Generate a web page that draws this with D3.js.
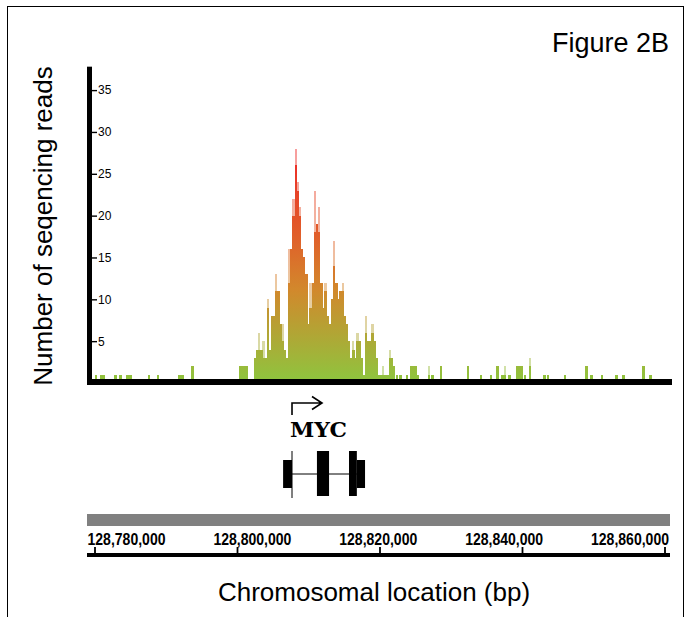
<!DOCTYPE html>
<html>
<head>
<meta charset="utf-8">
<script src="https://cdn.jsdelivr.net/npm/d3@7"></script>
<style>
body { margin: 0; background: #fff; }
svg text { font-family: "Liberation Sans", Arial, Helvetica, sans-serif; fill: #000; }
</style>
</head>
<body>
<div id="chart"></div>
<script>
// read counts around MYC, 300 bp bins through the peak
var binSize = 300;
var peakStart = 128800200;
var peakCounts = [2,2,2,2,0,0,0,3,4,4, 4,3,3,9,4,8,8,11,11,7, 5,4,3,12,16,20,26,23,20,16,
                  15,13,7,9,12,18,19,18,12,9, 11,8,7,10,14,12,10,11,11,8, 7,5,3,4,3,5,5,3,1,6,
                  5,5,6,5,3,1,1,1,1,1, 3,3,2];
// faint spikes above some bins: [bin index, count]
var peakTips = [[9,6],[11,5],[13,10],[17,13],[20,7],[23,16],[25,22],[26,28],[27,24],[28,21],
                [33,12],[35,23],[37,21],[40,12],[44,17],[48,12],[53,5],[55,6],[59,8],[62,7],[67,2],[70,4]];
// scattered background reads: [position, count]
var sparseReads = [[128780000,1],[128780700,1],[128781000,1],[128782700,1],[128783400,1],[128784300,1],
                   [128784600,1],[128784900,1],[128787400,1],[128788700,1],[128791600,1],[128791900,1],
                   [128792200,1],[128793500,2],
                   [128822200,1],[128822700,1],[128823600,1],[128824200,2],[128824500,2],[128824800,2],
                   [128825200,1],[128826700,1],[128827200,1],[128828400,2],[128832200,2],[128834000,1],
                   [128835400,1],[128836300,2],[128837000,1],[128837400,1],[128838000,1],[128839100,2],
                   [128839400,2],[128839700,2],[128840200,1],[128840900,2],[128842900,1],[128843400,1],
                   [128845800,1],[128848800,2],[128849500,1],[128851000,1],[128853000,1],[128854000,1],
                   [128856800,2],[128857800,1]];
var sparseTips = [[128826700,2],[128837400,2],[128840900,3]];

var yTicks = [5, 10, 15, 20, 25, 30, 35];
var xTicks = [128780000, 128800000, 128820000, 128840000, 128860000];

var geneName = "MYC";
var geneTss = 128807650;
var geneExons = [
    { start: 128806400, end: 128807650, kind: "utr" },
    { start: 128811150, end: 128812850, kind: "cds" },
    { start: 128815650, end: 128816750, kind: "cds" },
    { start: 128816750, end: 128817900, kind: "utr" }
];

var width = 685, height = 617;

var svg = d3.select("#chart").append("svg")
    .attr("width", width)
    .attr("height", height);

// frame
svg.append("rect")
    .attr("x", 7.5).attr("y", 6.5)
    .attr("width", 676).attr("height", 640)
    .attr("fill", "none").attr("stroke", "#000").attr("stroke-width", 1);

var x = d3.scaleLinear().domain([128780000, 128860000]).range([95, 665]);
var y = d3.scaleLinear().domain([0, 38]).range([383, 65]);

var defs = svg.append("defs");
var grad = defs.append("linearGradient")
    .attr("id", "readGrad")
    .attr("gradientUnits", "userSpaceOnUse")
    .attr("x1", 0).attr("x2", 0)
    .attr("y1", y(0)).attr("y2", y(28));
grad.append("stop").attr("offset", "0%").attr("stop-color", "#8dc63f");
grad.append("stop").attr("offset", "40%").attr("stop-color", "#d2882c");
grad.append("stop").attr("offset", "62%").attr("stop-color", "#e0602a");
grad.append("stop").attr("offset", "100%").attr("stop-color", "#ee2626");

var bars = peakCounts.map(function(c, i) { return { pos: peakStart + i * binSize, count: c }; })
    .concat(sparseReads.map(function(d) { return { pos: d[0], count: d[1] }; }))
    .filter(function(d) { return d.count > 0; });

var tips = peakTips.map(function(d) { return { pos: peakStart + d[0] * binSize, count: d[1] }; })
    .concat(sparseTips.map(function(d) { return { pos: d[0], count: d[1] }; }));

var plot = svg.append("g").attr("class", "reads")
    .attr("shape-rendering", "crispEdges");

plot.selectAll("rect.tip").data(tips).enter()
    .append("rect")
    .attr("class", "tip")
    .attr("x", function(d) { return x(d.pos); })
    .attr("width", function(d) { return x(d.pos + binSize) - x(d.pos); })
    .attr("y", function(d) { return y(d.count); })
    .attr("height", function(d) { return y(0) - y(d.count); })
    .attr("fill", "url(#readGrad)")
    .attr("opacity", 0.45);

plot.selectAll("rect.bar").data(bars).enter()
    .append("rect")
    .attr("class", "bar")
    .attr("x", function(d) { return x(d.pos); })
    .attr("width", function(d) { return x(d.pos + binSize) - x(d.pos) + 0.3; })
    .attr("y", function(d) { return y(d.count); })
    .attr("height", function(d) { return y(0) - y(d.count); })
    .attr("fill", "url(#readGrad)");

// heavy axis lines
svg.append("rect")
    .attr("x", 87).attr("y", 379)
    .attr("width", 585).attr("height", 6)
    .attr("fill", "#000");
svg.append("rect")
    .attr("x", 87).attr("y", y(37.8))
    .attr("width", 5).attr("height", 385 - y(37.8))
    .attr("fill", "#000");

var yAxis = d3.axisRight(y)
    .tickValues(yTicks)
    .tickSize(5)
    .tickPadding(1);

var yg = svg.append("g")
    .attr("transform", "translate(92,0)")
    .call(yAxis);
yg.select(".domain").remove();
yg.selectAll(".tick line").attr("stroke", "#000").attr("stroke-width", 1.4);
yg.selectAll(".tick text")
    .attr("font-family", "'Liberation Sans', Arial, sans-serif")
    .attr("font-size", 12)
    .attr("fill", "#000");

svg.append("text")
    .attr("transform", "translate(52," + 226 + ") rotate(-90)")
    .attr("text-anchor", "middle")
    .attr("font-size", 26)
    .text("Number of seqencing reads");

svg.append("text")
    .attr("x", 669).attr("y", 52)
    .attr("text-anchor", "end")
    .attr("font-size", 27)
    .text("Figure 2B");

// gene model
var gene = svg.append("g").attr("class", "gene");
var tx = x(geneTss);

gene.append("path")
    .attr("d", "M" + tx + ",415V403H" + (tx + 30) + "M" + (tx + 20) + ",396.5L" + (tx + 30) + ",403L" + (tx + 20) + ",409.5")
    .attr("fill", "none")
    .attr("stroke", "#000")
    .attr("stroke-width", 1.6);

gene.append("text")
    .attr("x", tx - 2).attr("y", 437)
    .style("font-family", "'DejaVu Serif', 'Courier New', Courier, serif")
    .attr("font-weight", "bold")
    .attr("font-size", 20)
    .attr("textLength", 57)
    .attr("lengthAdjust", "spacingAndGlyphs")
    .text(geneName);

gene.append("line")
    .attr("x1", tx).attr("x2", x(geneExons[geneExons.length - 1].start))
    .attr("y1", 474).attr("y2", 474)
    .attr("stroke", "#000").attr("stroke-width", 1);

gene.append("line")
    .attr("x1", tx).attr("x2", tx)
    .attr("y1", 451).attr("y2", 498)
    .attr("stroke", "#000").attr("stroke-width", 1);

gene.selectAll("rect.exon").data(geneExons).enter()
    .append("rect")
    .attr("class", "exon")
    .attr("x", function(d) { return x(d.start); })
    .attr("width", function(d) { return x(d.end) - x(d.start); })
    .attr("y", function(d) { return d.kind === "cds" ? 451 : 460; })
    .attr("height", function(d) { return d.kind === "cds" ? 45 : 28; })
    .attr("fill", "#000");

// chromosome coordinate bar
svg.append("rect")
    .attr("x", 87).attr("y", 514)
    .attr("width", 583).attr("height", 12)
    .attr("fill", "#808080");

svg.append("rect")
    .attr("x", 87).attr("y", 553)
    .attr("width", 583).attr("height", 4)
    .attr("fill", "#000");

svg.selectAll("line.xtick").data(xTicks).enter()
    .append("line")
    .attr("class", "xtick")
    .attr("x1", function(d) { return x(d); })
    .attr("x2", function(d) { return x(d); })
    .attr("y1", 547).attr("y2", 553)
    .attr("stroke", "#000").attr("stroke-width", 1.8);

// labels are spread evenly along the bar, squeezed to a condensed width
var labelPos = d3.scalePoint().domain(xTicks).range([126.5, 630]);
var fmt = d3.format(",");

var xl = svg.selectAll("text.xlabel").data(xTicks).enter()
    .append("text")
    .attr("class", "xlabel")
    .attr("text-anchor", "middle")
    .style("font-family", "'Liberation Sans Narrow', 'Arial Narrow', 'Liberation Sans', sans-serif")
    .attr("font-weight", "bold")
    .attr("font-size", 17)
    .attr("fill", "#111")
    .text(function(d) { return fmt(d); });

xl.attr("transform", function(d) {
    var w = this.getComputedTextLength();
    return "translate(" + labelPos(d) + ",545) scale(" + (78 / w) + ",1)";
});

svg.append("text")
    .attr("x", 374).attr("y", 601)
    .attr("text-anchor", "middle")
    .attr("font-size", 26)
    .text("Chromosomal location (bp)");
</script>
</body>
</html>
